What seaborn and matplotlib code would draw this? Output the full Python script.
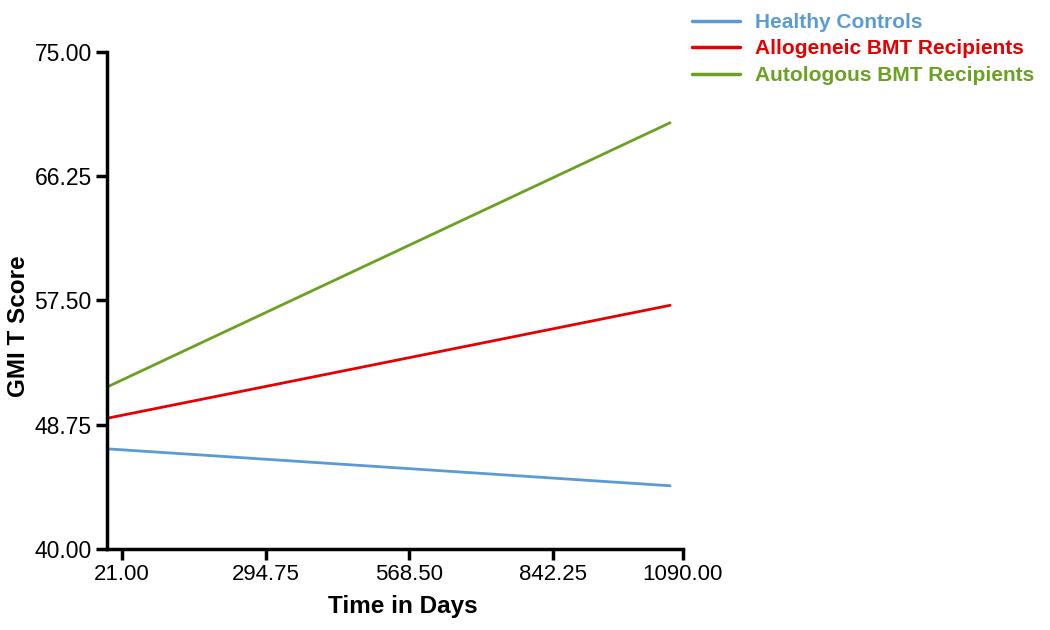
import matplotlib
matplotlib.use("Agg")
import matplotlib.pyplot as plt
import seaborn as sns
import pandas as pd
import numpy as np
from matplotlib.lines import Line2D

# ---- data ----
groups = ["Healthy Controls", "Allogeneic BMT Recipients", "Autologous BMT Recipients"]
time_days = [-7.5, 1066]
healthy = [47.05, 44.45]
allogeneic = [49.2, 57.15]
autologous = [51.4, 70.0]
xticks = [21.00, 294.75, 568.50, 842.25, 1090.00]
yticks = [40.00, 48.75, 57.50, 66.25, 75.00]
colors = ["#5B9BD5", "#E60000", "#6AA121"]

df = pd.DataFrame({
    "Time": time_days * 3,
    "Score": healthy + allogeneic + autologous,
    "Group": [g for g in groups for _ in time_days],
})

sns.set_style("white")
plt.rcParams["font.family"] = ["Liberation Sans", "DejaVu Sans"]
plt.rcParams.update({"text.color": "black", "axes.labelcolor": "black",
                     "xtick.color": "black", "ytick.color": "black"})

fig = plt.figure(figsize=(10.5, 6.3), dpi=100)
ax = fig.add_axes([107/1050, 1 - 549/630, (682.7 - 107)/1050, (549 - 51.7)/630])

sns.lineplot(data=df, x="Time", y="Score", hue="Group", hue_order=groups,
             palette=colors, linewidth=2.0, ax=ax, legend=False)

ax.set_xlim(-7.6, 1090)
ax.set_ylim(40, 75)
ax.set_xticks(xticks)
ax.set_yticks(yticks)
ax.set_xticklabels([f"{v:.2f}" for v in xticks], fontsize=16)
ax.set_yticklabels([f"{v:.2f}" for v in yticks], fontsize=16.5)
ax.tick_params(axis="both", direction="out", length=8, width=2.5, color="black",
               labelcolor="black", left=True, bottom=True, pad=3)

for s in ["top", "right"]:
    ax.spines[s].set_visible(False)
for s in ["left", "bottom"]:
    ax.spines[s].set_linewidth(2.5)
    ax.spines[s].set_color("black")

ax.set_xlabel("Time in Days", fontsize=17.5, fontweight="bold")
ax.set_ylabel("GMI T Score", fontsize=17.5, fontweight="bold")
ax.xaxis.set_label_coords(0.514, -0.092)
ax.yaxis.set_label_coords(-0.134, 0.448)

handles = [Line2D([0], [0], color=c, lw=2.5) for c in colors]
leg = fig.legend(handles, groups, loc="upper left",
                 bbox_to_anchor=(692/1050, 1 - 13/630), frameon=False,
                 borderpad=0, borderaxespad=0, handlelength=2.3,
                 handletextpad=0.72, labelspacing=0.36,
                 prop={"size": 15, "weight": "bold"})
for t, c in zip(leg.get_texts(), colors):
    t.set_color(c)

fig.savefig("out.png", dpi=100)
